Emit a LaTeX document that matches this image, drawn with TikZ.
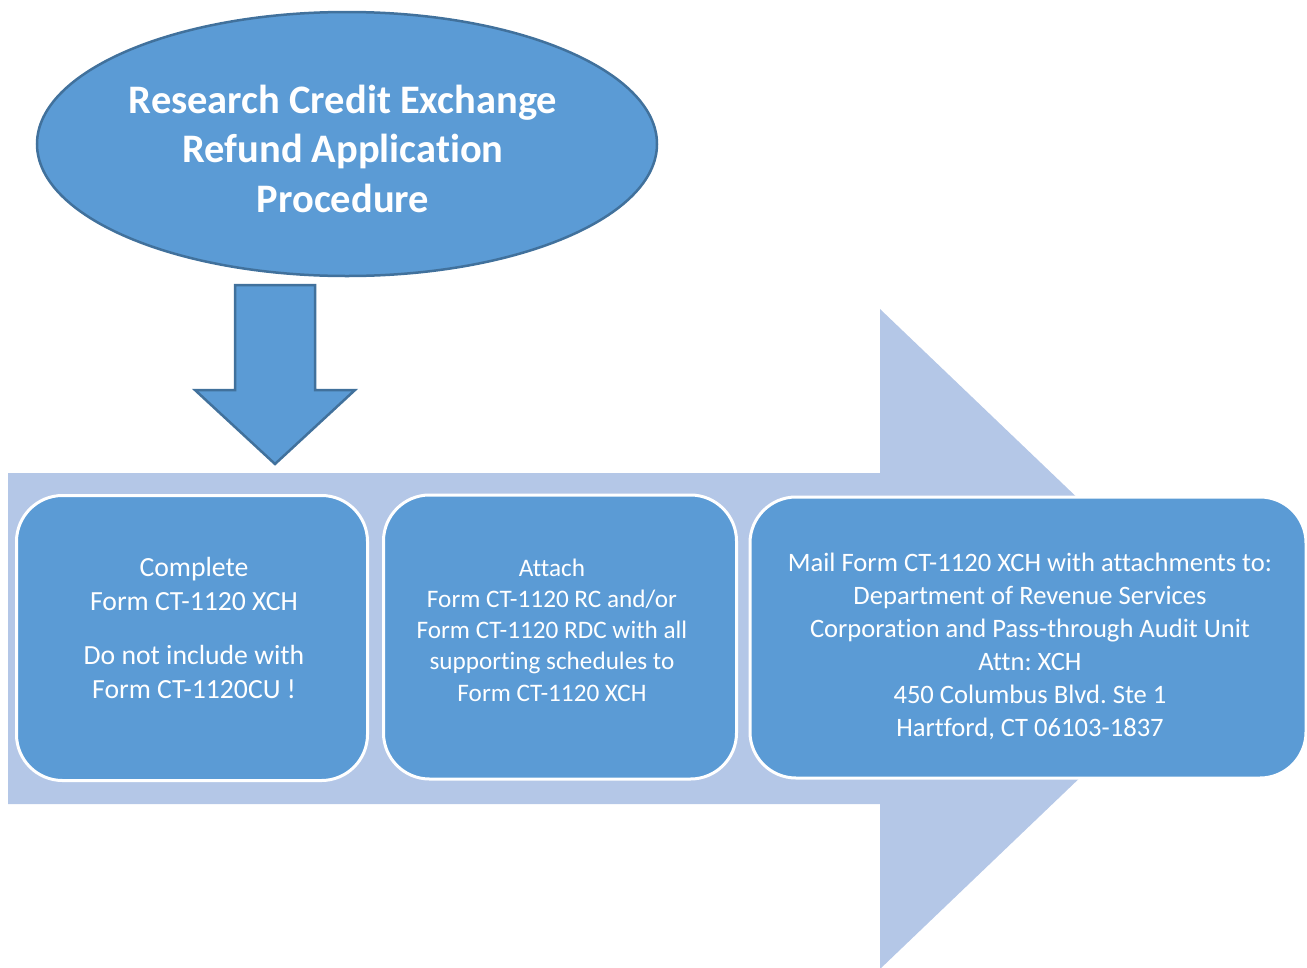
\documentclass[tikz,border=0pt]{standalone}
\usepackage{fontspec}
\setmainfont{Carlito}[Ligatures=NoCommon]
\frenchspacing
\usetikzlibrary{shapes.geometric}
\definecolor{midblue}{HTML}{5B9BD5}
\definecolor{darkedge}{HTML}{41719C}
\definecolor{lightblue}{HTML}{B4C7E7}
\tikzset{
  blueshape/.style={fill=midblue, draw=darkedge, line width=2.5pt, line join=miter},
  stepbox/.style={rectangle, rounded corners=46pt, fill=midblue, draw=white, line width=3pt, inner sep=0pt},
  boxtext/.style={text=white, align=center, inner sep=0pt},
  titletext/.style={text=white, align=center, font=\bfseries\fontsize{40.5}{49.5}\selectfont, inner sep=0pt}
}
\begin{document}
\begin{tikzpicture}[x=1pt, y=-1pt]
\useasboundingbox (0,0) rectangle (1307,967);
% big light arrow
\fill[lightblue] (8,473) -- (880,473) -- (880,309) -- (1225,639) -- (880,969) -- (880,804) -- (8,804) -- cycle;
% title ellipse
\node[ellipse, blueshape, minimum width=620, minimum height=264, inner sep=0pt] (title) at (347,144) {};
\node[titletext] (titlelabel) at (343,148.5) {Research Credit Exchange\\Refund Application\\Procedure};
% down block arrow
\coordinate (arrtip) at (275,464);
\path[blueshape] (235,285) -- (315,285) -- (315,390) -- (355,390) -- (arrtip) -- (195,390) -- (235,390) -- cycle;
% step boxes
\node[stepbox, minimum width=351, minimum height=285] (box1) at (192,638) {};
\node[stepbox, minimum width=353, minimum height=284] (box2) at (560,637) {};
\node[stepbox, minimum width=556, minimum height=281] (box3) at (1028,637.5) {};
\node[boxtext, font=\fontsize{27.7}{34}\selectfont] (text1) at (box1.center) [xshift=2pt, yshift=10pt]
  {Complete\\Form CT-1120 XCH\\[20pt]Do not include with\\Form CT-1120CU !};
\node[boxtext, font=\fontsize{25.2}{31.3}\selectfont] (text2) at (box2.center) [xshift=-8pt, yshift=7pt]
  {Attach\\Form CT-1120 RC and/or\\Form CT-1120 RDC with all\\supporting schedules to\\Form CT-1120 XCH};
\node[boxtext, font=\fontsize{26.6}{33}\selectfont] (text3) at (box3.center) [xshift=2pt, yshift=-9pt]
  {Mail Form CT-1120 XCH with attachments to:\\Department of Revenue Services\\Corporation and Pass-through Audit Unit\\Attn: XCH\\450 Columbus Blvd. Ste 1\\Hartford, CT 06103-1837};
\end{tikzpicture}
\end{document}
